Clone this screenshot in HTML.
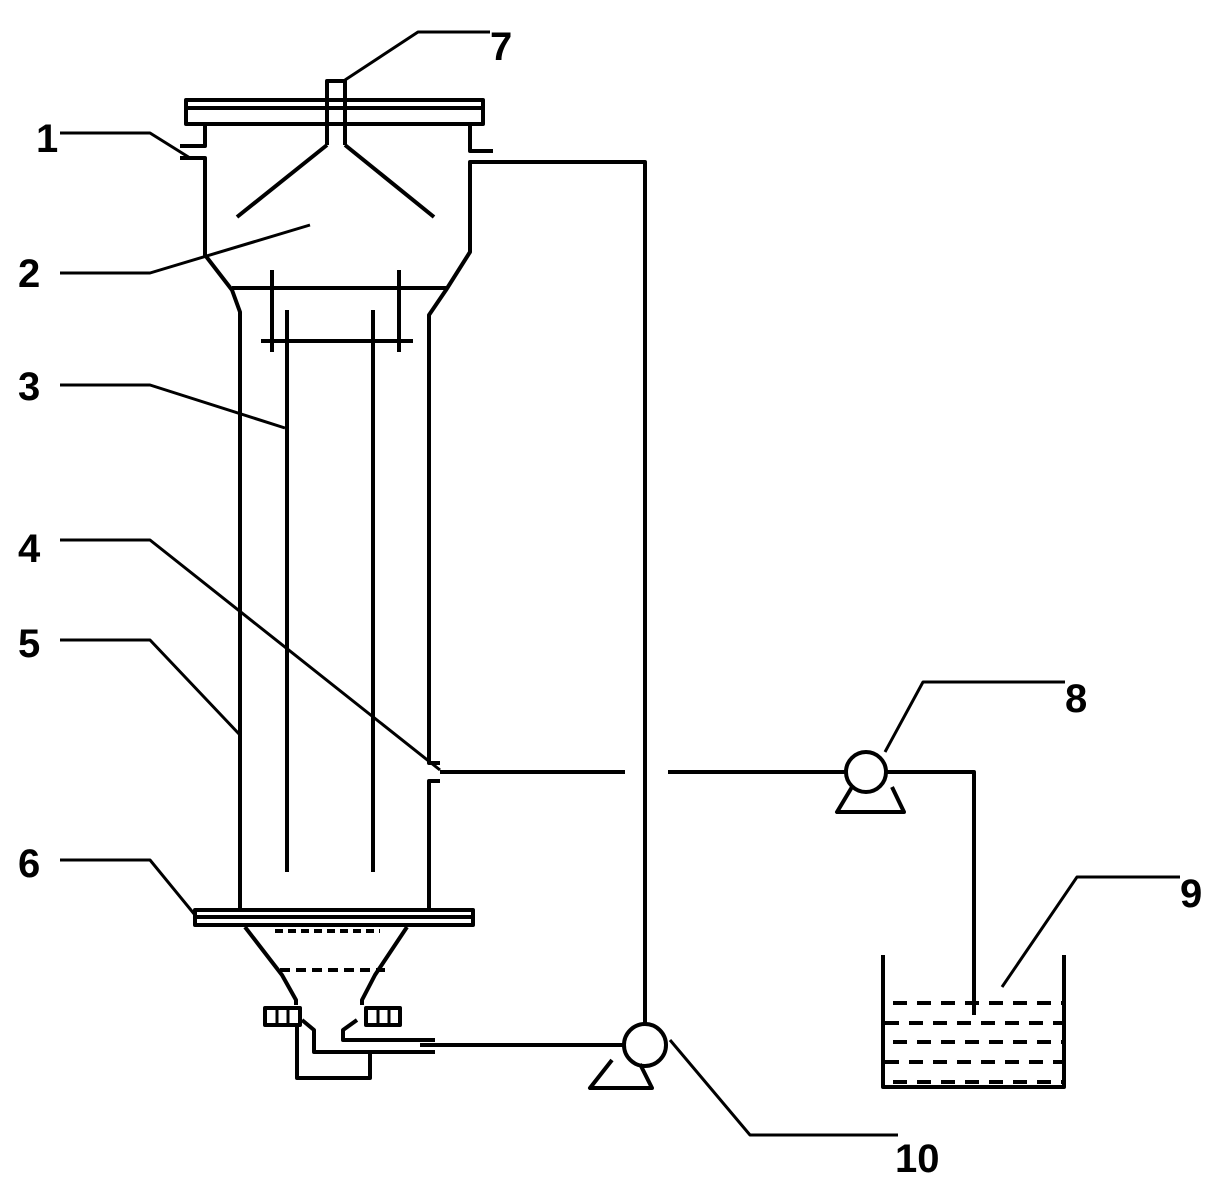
<!DOCTYPE html>
<html><head><meta charset="utf-8"><style>html,body{margin:0;padding:0;background:#fff}svg{display:block}</style></head>
<body>
<svg width="1223" height="1196" viewBox="0 0 1223 1196" xmlns="http://www.w3.org/2000/svg">
<g fill="none" stroke="#000" stroke-width="4" stroke-linejoin="round">
<rect x="186" y="100" width="297" height="24"/>
<line x1="188" y1="108" x2="481" y2="108"/>
<path d="M327,145 V81 H345 V145"/>
<line x1="327" y1="145" x2="237" y2="217"/>
<line x1="345" y1="145" x2="434" y2="217"/>
<path d="M205,124 V146 H180 M180,158 H205 V255 L232,290 L240,312 V912"/>
<path d="M470,124 V151 H493 M493,162 H470 V252 L446,290 L429,315 V763 H440 M440,781 H429 V912"/>
<line x1="232" y1="288" x2="446" y2="288"/>
<line x1="272" y1="270" x2="272" y2="352"/>
<line x1="287" y1="310" x2="287" y2="872"/>
<line x1="373" y1="310" x2="373" y2="872"/>
<line x1="399" y1="270" x2="399" y2="352"/>
<line x1="261" y1="341" x2="413" y2="341"/>
<path d="M470,162 H645 V1025"/>
<rect x="195" y="910" width="278" height="15"/>
<line x1="197" y1="917" x2="471" y2="917"/>
<path d="M245,927 L282,975 L296,1000 V1005" />
<path d="M407,927 L375,975 L362,1000 V1005" />
<line x1="275" y1="931" x2="380" y2="931" stroke-dasharray="8 5"/>
<line x1="280" y1="970" x2="385" y2="970" stroke-dasharray="10 6"/>
<rect x="265" y="1008" width="35" height="17"/>
<line x1="277" y1="1008" x2="277" y2="1025" stroke-width="3"/>
<line x1="288" y1="1008" x2="288" y2="1025" stroke-width="3"/>
<rect x="366" y="1008" width="34" height="17"/>
<line x1="378" y1="1008" x2="378" y2="1025" stroke-width="3"/>
<line x1="389" y1="1008" x2="389" y2="1025" stroke-width="3"/>
<path d="M297,1025 V1078 H370 V1053"/>
<path d="M302,1020 L314,1030 V1052 H435"/>
<path d="M357,1020 L343,1030 V1040 H435"/>
<line x1="420" y1="1045" x2="625" y2="1045"/>
<circle cx="645" cy="1045" r="21"/>
<path d="M612,1060 L590,1088 H652 L640,1064"/>
<line x1="440" y1="772" x2="625" y2="772"/>
<line x1="668" y1="772" x2="846" y2="772"/>
<circle cx="866" cy="772" r="20"/>
<path d="M852,787 L837,812 H904 L892,787"/>
<path d="M886,772 H974 V1015"/>
<path d="M883,955 V1087 H1064 V955"/>
<g stroke-width="4" stroke-dasharray="14 10">
<line x1="893" y1="1003" x2="1062" y2="1003"/>
<line x1="885" y1="1023" x2="1062" y2="1023"/>
<line x1="893" y1="1042" x2="1062" y2="1042"/>
<line x1="885" y1="1062" x2="1062" y2="1062"/>
<line x1="893" y1="1082" x2="1062" y2="1082"/>
</g>
<g stroke-width="3">
<path d="M60,133 H150 L190,158"/>
<path d="M60,273 H150 L310,225"/>
<path d="M60,385 H150 L285,428"/>
<path d="M60,540 H150 L440,770"/>
<path d="M60,640 H150 L240,735"/>
<path d="M60,860 H150 L195,915"/>
<path d="M490,32 H418 L345,80"/>
<path d="M1065,682 H923 L885,752"/>
<path d="M1180,877 H1077 L1002,987"/>
<path d="M898,1135 H750 L670,1040"/>
</g>
</g>
<g font-family="Liberation Sans, sans-serif" font-size="40" font-weight="bold" fill="#000">
<text x="36" y="152">1</text>
<text x="18" y="287">2</text>
<text x="18" y="400">3</text>
<text x="18" y="562">4</text>
<text x="18" y="657">5</text>
<text x="18" y="877">6</text>
<text x="490" y="60">7</text>
<text x="1065" y="712">8</text>
<text x="1180" y="907">9</text>
<text x="895" y="1172">10</text>
</g>
</svg>
</body></html>
